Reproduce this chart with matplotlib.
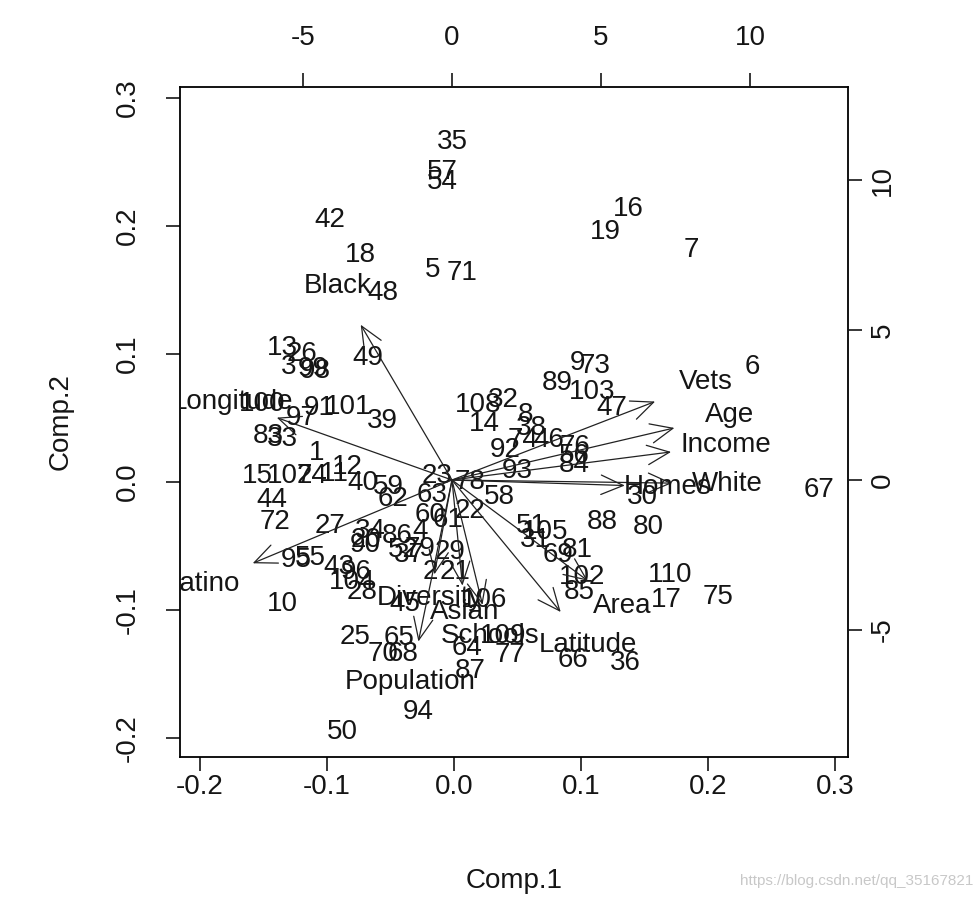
import matplotlib
matplotlib.use("Agg")
import matplotlib.pyplot as plt

plt.rcParams['font.family'] = ['Liberation Sans', 'DejaVu Sans']
plt.rcParams['axes.unicode_minus'] = False

# ---- observation scores (Comp.1, Comp.2) ----
obs_labels = ['35', '57', '54', '42', '18', '16', '19', '7', '5', '71', '48',
              '13', '26', '3', '99', '98', '49', '9', '73', '6', '89', '103',
              '47', '108', '32', '100', '91', '101', '97', '39', '14', '8',
              '38', '83', '33', '74', '46', '76', '92', '56', '84', '93', '12',
              '15', '107', '24', '11', '40', '59', '23', '62', '63', '60', '78',
              '58', '22', '61', '4', '86', '44', '72', '27', '34', '20', '90',
              '29', '52', '79', '37', '2', '21', '106', '45', '43', '96', '104',
              '28', '95', '55', '10', '25', '65', '70', '68', '64', '109', '77',
              '87', '94', '50', '88', '80', '51', '105', '31', '30', '110', '17',
              '75', '66', '36', '102', '85', '69', '81', '67', '1']
comp1 = [-0.001, -0.009, -0.009, -0.098, -0.074, 0.137, 0.119, 0.187, -0.017, 0.006, -0.056,
         -0.135, -0.120, -0.130, -0.111, -0.109, -0.068, 0.097, 0.111, 0.235, 0.081, 0.109,
         0.124, 0.019, 0.039, -0.151, -0.106, -0.083, -0.120, -0.056, 0.024, 0.056,
         0.061, -0.146, -0.135, 0.054, 0.075, 0.095, 0.040, 0.095, 0.095, 0.050, -0.084,
         -0.155, -0.129, -0.112, -0.094, -0.072, -0.052, -0.013, -0.048, -0.017, -0.019, 0.013,
         0.036, 0.013, -0.005, -0.027, -0.045, -0.143, -0.141, -0.098, -0.066, -0.069, -0.070,
         -0.003, -0.040, -0.027, -0.035, -0.019, 0.001, 0.024, -0.039, -0.091, -0.077, -0.080,
         -0.072, -0.124, -0.113, -0.135, -0.078, -0.043, -0.056, -0.040, 0.010, 0.039, 0.044,
         0.013, -0.028, -0.088, 0.117, 0.153, 0.061, 0.072, 0.064, 0.148, 0.170, 0.167,
         0.208, 0.094, 0.135, 0.101, 0.099, 0.082, 0.097, 0.287, -0.108]
comp2 = [0.266, 0.242, 0.234, 0.205, 0.177, 0.213, 0.195, 0.181, 0.166, 0.163, 0.148,
         0.105, 0.100, 0.090, 0.088, 0.087, 0.097, 0.093, 0.091, 0.090, 0.077, 0.070,
         0.058, 0.060, 0.064, 0.061, 0.058, 0.059, 0.050, 0.048, 0.045, 0.052,
         0.042, 0.036, 0.034, 0.033, 0.033, 0.027, 0.025, 0.020, 0.013, 0.009, 0.012,
         0.005, 0.005, 0.005, 0.006, -0.001, -0.004, 0.005, -0.013, -0.010, -0.026, 0.000,
         -0.012, -0.023, -0.030, -0.038, -0.042, -0.014, -0.031, -0.034, -0.038, -0.045, -0.049,
         -0.055, -0.053, -0.052, -0.057, -0.070, -0.070, -0.092, -0.095, -0.066, -0.070, -0.078,
         -0.086, -0.061, -0.059, -0.095, -0.121, -0.122, -0.134, -0.134, -0.130, -0.120, -0.135,
         -0.148, -0.180, -0.195, -0.031, -0.035, -0.034, -0.039, -0.045, -0.012, -0.073, -0.092,
         -0.090, -0.139, -0.141, -0.074, -0.086, -0.057, -0.053, -0.006, 0.023]

# ---- variable loadings (top/right scale) ----
var_names = ['Vets', 'Age', 'Income', 'White', 'Homes', 'Black', 'Longitude',
             'Latino', 'Diversity', 'Asian', 'Schools', 'Area', 'Latitude', 'Population']
load1 = [8.52, 9.33, 9.19, 9.23, 7.25, -3.83, -7.35, -8.36, -0.74, 0.44, 1.28, 5.70, 4.56, -1.41]
load2 = [3.27, 2.17, 1.17, -0.13, -0.23, 6.47, 2.60, -3.47, -3.93, -4.40, -5.20, -4.20, -5.50, -6.73]

fs = 20
ink = '#151515'

fig = plt.figure(figsize=(9.78, 8.99), dpi=100)
pos = [180 / 978, 1 - 757 / 899, (848 - 180) / 978, (757 - 87) / 899]
ax = fig.add_axes(pos)
ax.set_xlim(-0.2157, 0.3102)
ax.set_ylim(-0.2148, 0.3086)
for lab, x, y in zip(obs_labels, comp1, comp2):
    ax.text(x, y, lab, ha='center', va='center', fontsize=fs, color=ink, clip_on=True)
ax.set_xticks([-0.2, -0.1, 0.0, 0.1, 0.2, 0.3])
ax.set_yticks([-0.2, -0.1, 0.0, 0.1, 0.2, 0.3])
ax.set_xticklabels(['-0.2', '-0.1', '0.0', '0.1', '0.2', '0.3'])
ax.set_yticklabels(['-0.2', '-0.1', '0.0', '0.1', '0.2', '0.3'], rotation=90, va='center')
ax.tick_params(axis='x', labelsize=fs, length=10, width=1.2, pad=2, colors=ink)
ax.tick_params(axis='y', labelsize=fs, length=10, width=1.2, pad=18, colors=ink)
ax.set_xlabel('Comp.1', fontsize=fs, labelpad=49, color=ink)
ax.set_ylabel('Comp.2', fontsize=fs, labelpad=30, color=ink)
for s in ax.spines.values():
    s.set_linewidth(1.3)

ax2 = fig.add_axes(pos, frameon=False)
ax2.set_xlim(-9.128, 13.289)
ax2.set_ylim(-9.233, 13.1)
ax2.xaxis.tick_top()
ax2.yaxis.tick_right()
ax2.set_xticks([-5, 0, 5, 10])
ax2.set_yticks([-5, 0, 5, 10])
ax2.set_xticklabels(['-5', '0', '5', '10'])
ax2.set_yticklabels(['-5', '0', '5', '10'], rotation=90, va='center')
ax2.tick_params(axis='x', labelsize=fs, length=10, width=1.2, pad=16, colors=ink)
ax2.tick_params(axis='y', labelsize=fs, length=10, width=1.2, pad=6, colors=ink)
for name, x, y in zip(var_names, load1, load2):
    ax2.annotate('', xy=(0.8 * x, 0.8 * y), xytext=(0, 0),
                 arrowprops=dict(arrowstyle='->,head_length=0.8,head_width=0.35',
                                 color='#222222', lw=0.9, shrinkA=0, shrinkB=0,
                                 mutation_scale=20))
    ax2.text(x, y, name, ha='center', va='center', fontsize=fs, color=ink, clip_on=True)

fig.text(0.995, 0.012, 'https://blog.csdn.net/qq_35167821', ha='right', va='bottom',
         fontsize=11, color='#c8c8c8')

fig.savefig('out.png', dpi=100)
